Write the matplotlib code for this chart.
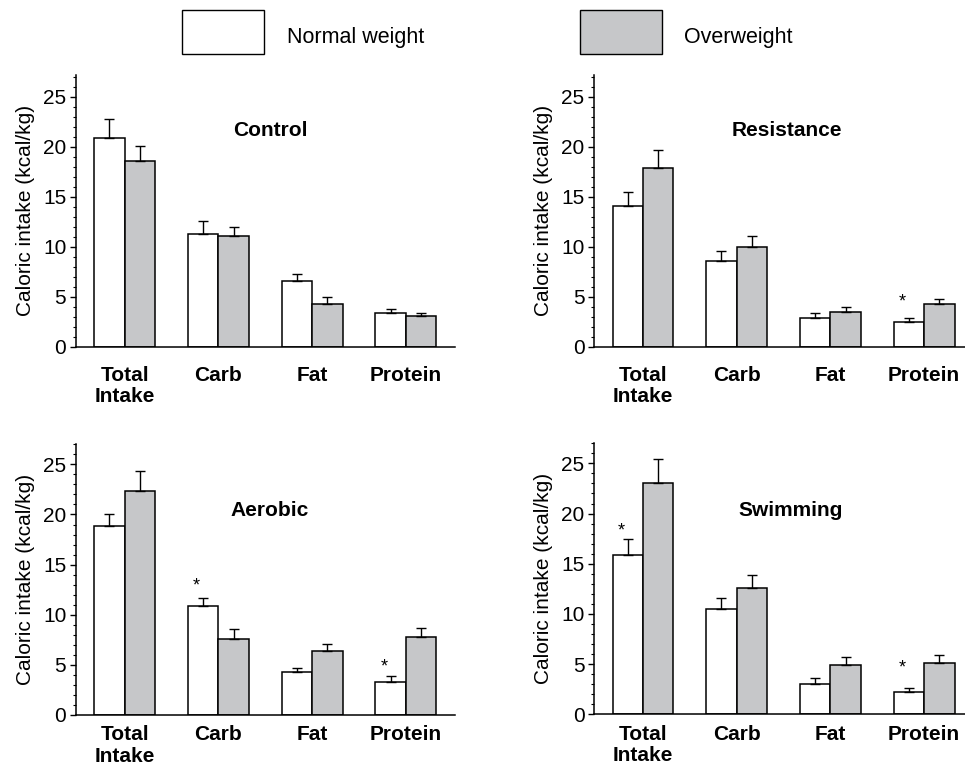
import numpy as np
import matplotlib
matplotlib.use("Agg")
import matplotlib.pyplot as plt
from matplotlib.patches import Rectangle
from matplotlib.ticker import MultipleLocator

plt.rcParams["font.family"] = ["Liberation Sans", "DejaVu Sans"]

categories = ["Total\nIntake", "Carb", "Fat", "Protein"]
series_names = ["Normal weight", "Overweight"]

# moyennes et erreurs (kcal/kg)
control_nw = [20.9, 11.3, 6.6, 3.35]
control_nw_err = [1.9, 1.25, 0.65, 0.4]
control_ow = [18.6, 11.05, 4.25, 3.05]
control_ow_err = [1.45, 0.9, 0.7, 0.3]

resistance_nw = [14.05, 8.55, 2.85, 2.45]
resistance_nw_err = [1.45, 1.0, 0.5, 0.4]
resistance_ow = [17.85, 9.95, 3.45, 4.25]
resistance_ow_err = [1.85, 1.1, 0.5, 0.5]

aerobic_nw = [18.85, 10.9, 4.25, 3.3]
aerobic_nw_err = [1.2, 0.75, 0.4, 0.6]
aerobic_ow = [22.3, 7.55, 6.4, 7.8]
aerobic_ow_err = [2.05, 1.0, 0.7, 0.9]

swimming_nw = [15.9, 10.5, 3.0, 2.25]
swimming_nw_err = [1.6, 1.05, 0.6, 0.4]
swimming_ow = [23.0, 12.6, 4.9, 5.15]
swimming_ow_err = [2.4, 1.3, 0.8, 0.8]

# astérisques : (indice de catégorie, hauteur)
resistance_stars = [(3, 4.5)]
aerobic_stars = [(1, 12.85), (3, 4.8)]
swimming_stars = [(0, 18.25), (3, 4.6)]

GREY = "#c6c7c9"
W = 965
H = 767
GROUP = 93.7  # pixels par catégorie


def panel(rect_px, title, title_xy, nw, nw_err, ow, ow_err, stars, ymax, xpad):
    left, right, zero_y, top_y = rect_px
    ax = fig.add_axes([left / W, 1 - zero_y / H, (right - left) / W, (zero_y - top_y) / H])
    x = np.arange(len(categories))
    bw = 0.325
    ekw = dict(ecolor="black", elinewidth=1.0, capsize=3.8, capthick=1.0)
    ax.bar(x - bw / 2, nw, bw, color="white", edgecolor="black", linewidth=1.1,
           yerr=[np.zeros(len(nw)), nw_err], error_kw=ekw, zorder=2)
    ax.bar(x + bw / 2, ow, bw, color=GREY, edgecolor="black", linewidth=1.1,
           yerr=[np.zeros(len(ow)), ow_err], error_kw=ekw, zorder=2)
    for i, y in stars:
        ax.text(i - bw / 2 - 0.07, y, "*", ha="center", va="center", fontsize=13)
    x0 = -0.52
    ax.set_xlim(x0, x0 + (right - left) / GROUP)
    ax.set_ylim(0, ymax)
    ax.spines["top"].set_visible(False)
    ax.spines["right"].set_visible(False)
    ax.spines["left"].set_linewidth(1.1)
    ax.spines["bottom"].set_linewidth(1.1)
    ax.set_xticks(x)
    ax.set_xticklabels(categories, fontsize=15, fontweight="bold", linespacing=1.15)
    ax.tick_params(axis="x", length=0, pad=xpad)
    ax.set_yticks([0, 5, 10, 15, 20, 25])
    ax.yaxis.set_minor_locator(MultipleLocator(1))
    ax.tick_params(axis="y", which="major", length=4, width=1.0, labelsize=15, pad=3)
    ax.tick_params(axis="y", which="minor", length=2, width=0.8)
    ax.set_ylabel("Caloric intake (kcal/kg)", fontsize=15, labelpad=6)
    ax.text(title_xy[0], title_xy[1], title, ha="center", va="center",
            fontsize=15, fontweight="bold")
    return ax


fig = plt.figure(figsize=(W / 100, H / 100), dpi=100)

panel((76, 455, 346.7, 75), "Control", (1.55, 21.6),
      control_nw, control_nw_err, control_ow, control_ow_err, [], 27.2, 14)
panel((594.3, 965, 346.7, 75), "Resistance", (1.54, 21.6),
      resistance_nw, resistance_nw_err, resistance_ow, resistance_ow_err,
      resistance_stars, 27.2, 14)
panel((76, 455, 715, 444.3), "Aerobic", (1.55, 20.4),
      aerobic_nw, aerobic_nw_err, aerobic_ow, aerobic_ow_err, aerobic_stars, 27.0, 7.5)
panel((594.3, 965, 714.3, 443.3), "Swimming", (1.57, 20.3),
      swimming_nw, swimming_nw_err, swimming_ow, swimming_ow_err,
      swimming_stars, 27.0, 7.5)

# légende en haut
for (bx, tx), fc, name in zip([(181.7, 286.7), (580, 684)], ["white", GREY], series_names):
    fig.patches.append(Rectangle((bx / W, 1 - 54.3 / H), 82.3 / W, 44.3 / H,
                                 transform=fig.transFigure, facecolor=fc,
                                 edgecolor="black", linewidth=1.0))
    fig.text(tx / W, 1 - 37.5 / H, name, ha="left", va="center", fontsize=15.5)

fig.savefig("out.png", dpi=100)
